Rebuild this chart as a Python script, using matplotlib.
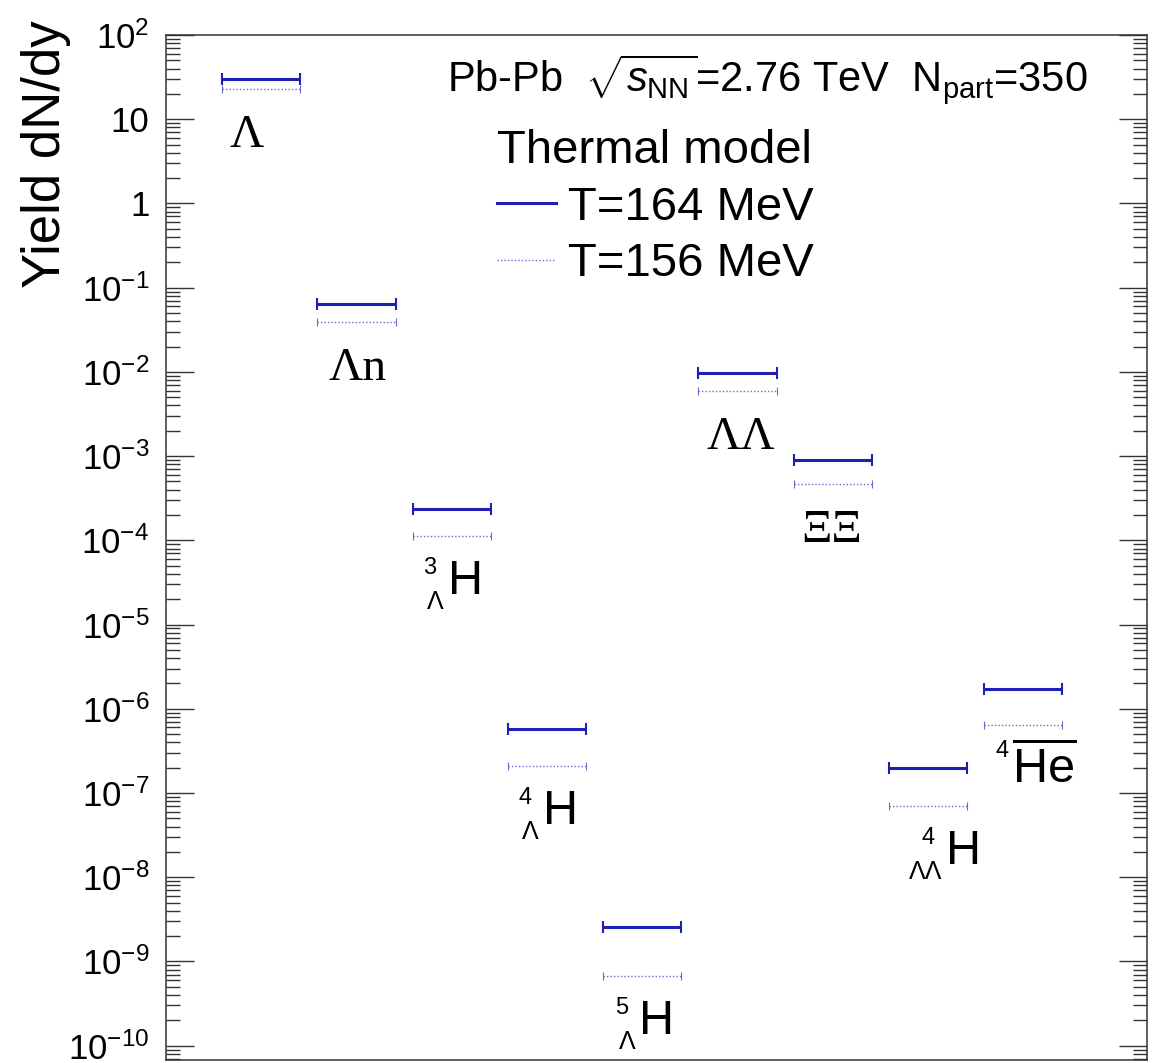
import numpy as np
import matplotlib.pyplot as plt
from matplotlib.lines import Line2D
from matplotlib.ticker import LogLocator, FuncFormatter, NullFormatter

plt.rcParams['font.family'] = 'Liberation Sans'
plt.rcParams['mathtext.fontset'] = 'custom'
plt.rcParams['mathtext.rm'] = 'Liberation Sans'
plt.rcParams['mathtext.it'] = 'Liberation Sans:italic'
plt.rcParams['mathtext.bf'] = 'Liberation Sans:bold'

# Teilchen (Label-Bausteine) und Yields aus dem Thermalmodell
symbol      = ['Λ', 'Λn', 'H', 'H', 'H', 'ΛΛ', 'ΞΞ', 'H', 'He']
mass_number = ['', '', '3', '4', '5', '', '', '4', '4']
hyper       = ['', '', 'Λ', 'Λ', 'Λ', '', '', 'ΛΛ', '']
anti        = [False, False, False, False, False, False, False, False, True]

yield_164 = [29.9, 0.064, 2.35e-4, 5.7e-7, 2.6e-9, 9.8e-3, 8.9e-4, 2.0e-7, 1.74e-6]
yield_156 = [22.8, 0.039, 1.14e-4, 2.1e-7, 6.8e-10, 5.9e-3, 4.7e-4, 7.0e-8, 6.5e-7]

c164 = '#1f1fb8'
c156 = '#6a6ad0'
PX = 0.72   # points per pixel (dpi 100)

fig = plt.figure(figsize=(11.59, 10.63), dpi=100)
ax = fig.add_axes([166/1159, 3/1063, 981/1159, 1025/1063])

pos = np.arange(1, len(symbol) + 1)
half = 0.41

eb1 = ax.errorbar(pos, yield_164, xerr=half, fmt='none', ecolor=c164,
                  elinewidth=2.2, capsize=4, capthick=1.5)
eb2 = ax.errorbar(pos, yield_156, xerr=half, fmt='none', ecolor=c156,
                  elinewidth=1.0, capsize=3, capthick=0.8)
eb2[2][0].set_linestyle((0, (1, 1.5)))

ax.set_yscale('log')
ax.set_ylim(10**-10.17, 100)
ax.set_xlim(0, 10.3)
ax.set_xticks([])

def fmt(v, _):
    e = int(round(np.log10(v)))
    if e == 0:
        return '1'
    if e == 1:
        return '10'
    return r'$10^{%d}$' % e

ax.yaxis.set_major_locator(LogLocator(base=10, numticks=20))
ax.yaxis.set_minor_locator(LogLocator(base=10, subs=np.arange(2, 10), numticks=20))
ax.yaxis.set_major_formatter(FuncFormatter(fmt))
ax.yaxis.set_minor_formatter(NullFormatter())
ax.tick_params(axis='y', which='both', direction='in', left=True, right=True,
               width=1.0, color='#333333')
ax.tick_params(axis='y', which='major', length=20, labelsize=25, pad=12)
ax.tick_params(axis='y', which='minor', length=10)
for sp in ax.spines.values():
    sp.set_linewidth(1.1)
    sp.set_color('#333333')

ax.set_ylabel('Yield dN/dy', fontsize=38, loc='top')
ax.yaxis.set_label_coords(-0.097, 1.0146)

# Labels unter den Balken
label_dx = [-15, 1, -4, -4, -3, 3, -1, 18, -11]
for i in range(len(symbol)):
    x, yd, dx = pos[i], yield_156[i], label_dx[i]
    if mass_number[i] == '':
        ax.annotate(symbol[i], (x, yd), xytext=(dx*PX, -58*PX), textcoords='offset points',
                    ha='center', va='baseline', fontsize=34, family='Liberation Serif')
        continue
    txt = r'$\overline{\mathrm{%s}}$' % symbol[i] if anti[i] else symbol[i]
    ax.annotate(txt, (x, yd), xytext=(dx*PX, -58*PX), textcoords='offset points',
                ha='left', va='baseline', fontsize=35)
    if hyper[i]:
        ax.annotate(mass_number[i], (x, yd), xytext=((dx-18)*PX, -38*PX), textcoords='offset points',
                    ha='center', va='baseline', fontsize=17)
        ax.annotate(hyper[i], (x, yd), xytext=((dx-4)*PX, -73*PX), textcoords='offset points',
                    ha='right', va='baseline', fontsize=18)
    else:
        ax.annotate(mass_number[i], (x, yd), xytext=((dx-10)*PX, -32*PX), textcoords='offset points',
                    ha='center', va='baseline', fontsize=17)

ax.text((447-166)/981, (1060-92)/1025,
        r'Pb-Pb  $\sqrt{s_{\rm NN}}$=2.76 TeV  N$_{\rm part}$=350',
        transform=ax.transAxes, ha='left', va='baseline', fontsize=30)

handles = [Line2D([], [], color=c164, lw=2.2),
           Line2D([], [], color=c156, lw=1.0, ls=(0, (1, 1.5)))]
ax.legend(handles, ['T=164 MeV', 'T=156 MeV'], title='Thermal model',
          loc='upper left', bbox_to_anchor=((497-166)/981, (1060-129)/1025),
          frameon=False, fontsize=34, title_fontsize=34, handlelength=1.25,
          handletextpad=0.25, labelspacing=0.27, alignment='left',
          borderpad=0, borderaxespad=0)

plt.savefig('out.png', dpi=100)
